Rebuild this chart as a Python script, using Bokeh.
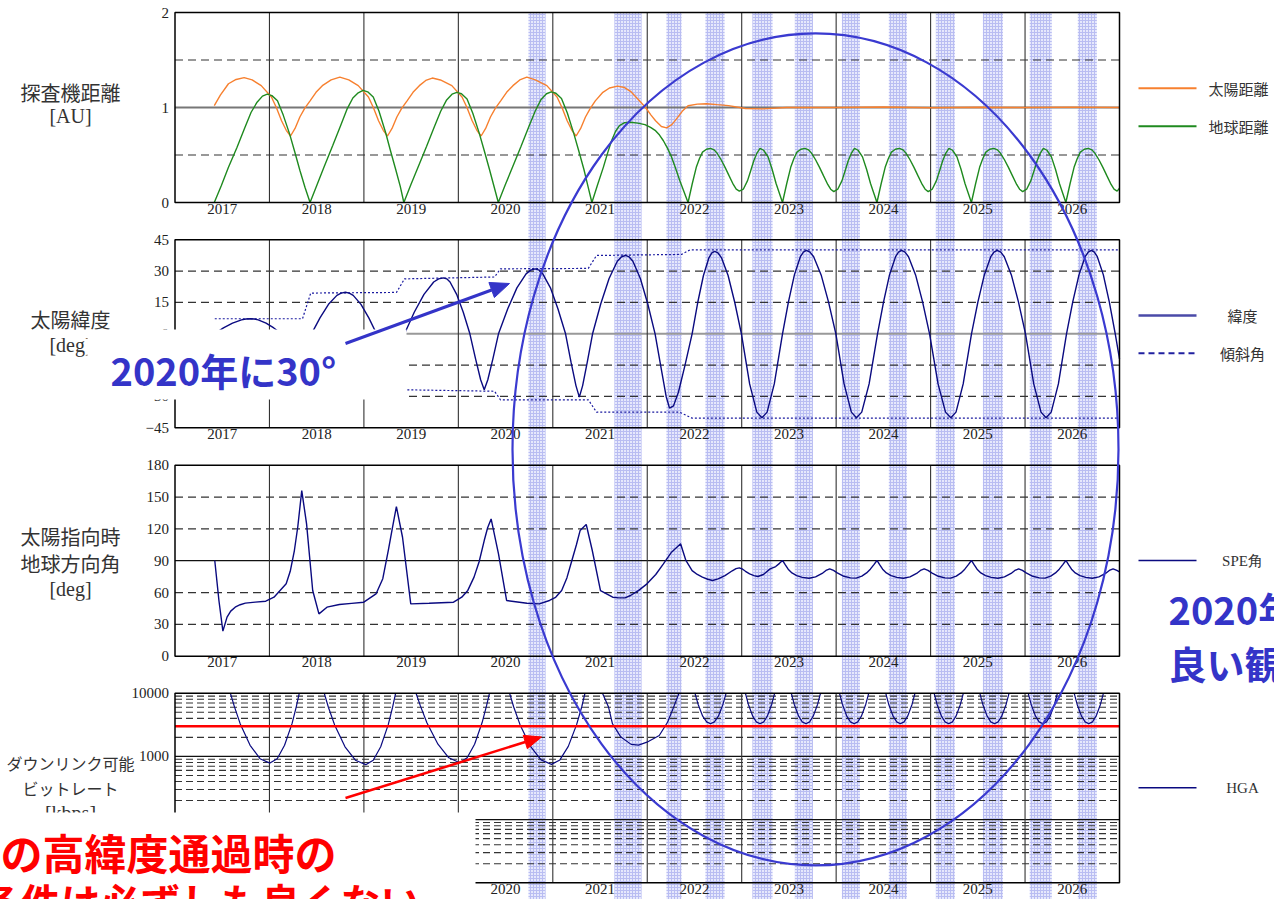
import math
from bokeh.plotting import figure
from bokeh.models import (Range1d, LinearAxis, LogAxis, LogScale, FixedTicker,
                          BasicTickFormatter, CustomJSTickFormatter)
from bokeh.core.properties import value
from bokeh.embed import file_html
from bokeh.resources import INLINE

# ---------------- data ----------------
year_labels = ["2017", "2018", "2019", "2020", "2021", "2022", "2023", "2024", "2025", "2026"]
label_pos = [2017.5, 2018.5, 2019.5, 2020.5, 2021.5, 2022.5, 2023.5, 2024.5, 2025.5, 2026.5]
year_lines = [2018, 2019, 2020, 2021, 2022, 2023, 2024, 2025, 2026]

sun_t = [2017.416, 2017.480, 2017.566, 2017.647, 2017.732, 2017.817, 2017.913, 2018.021, 2018.073, 2018.128,
         2018.178, 2018.223, 2018.271, 2018.322, 2018.373, 2018.430, 2018.493, 2018.560, 2018.653, 2018.745,
         2018.840, 2018.940, 2019.048, 2019.100, 2019.155, 2019.205, 2019.250, 2019.298, 2019.349, 2019.400,
         2019.457, 2019.520, 2019.587, 2019.655, 2019.724,
         2019.810, 2019.931, 2020.039, 2020.091, 2020.146, 2020.196, 2020.241, 2020.289, 2020.340, 2020.391,
         2020.448, 2020.511, 2020.578, 2020.650, 2020.725,
         2020.815, 2020.937, 2021.045, 2021.097, 2021.152, 2021.202, 2021.247, 2021.295, 2021.346, 2021.397,
         2021.450, 2021.530, 2021.600, 2021.685,
         2021.760, 2021.823, 2021.900, 2021.982, 2022.040, 2022.088, 2022.150, 2022.204, 2022.260, 2022.310,
         2022.370, 2022.432, 2022.530, 2022.628, 2022.740, 2022.861,
         2023.040, 2023.220, 2023.475, 2024.0, 2024.5, 2025.0, 2025.5, 2026.0, 2026.5, 2027.0]
sun_au = [1.02, 1.13, 1.25, 1.295, 1.315, 1.29, 1.23, 1.11, 1.00, 0.86,
          0.76, 0.70, 0.78, 0.90, 0.99, 1.07, 1.16, 1.23, 1.29, 1.32,
          1.29, 1.23, 1.11, 1.00, 0.86, 0.76, 0.70, 0.78, 0.90, 0.99,
          1.07, 1.16, 1.23, 1.285, 1.31,
          1.29, 1.23, 1.11, 1.00, 0.86, 0.76, 0.70, 0.78, 0.90, 0.99,
          1.07, 1.16, 1.23, 1.29, 1.32,
          1.29, 1.23, 1.11, 1.00, 0.86, 0.76, 0.70, 0.78, 0.90, 0.99,
          1.07, 1.16, 1.205, 1.225,
          1.21, 1.17, 1.09, 1.00, 0.92, 0.86, 0.80, 0.786, 0.82, 0.88,
          0.96, 1.018, 1.035, 1.04, 1.03, 1.02,
          0.99, 0.985, 1.0, 1.0, 1.005, 0.998, 1.003, 1.0, 1.004, 1.0]

earth_t = [2017.416, 2017.491, 2017.566, 2017.656, 2017.740, 2017.806, 2017.869, 2017.926, 2017.977, 2018.026,
           2018.085, 2018.146, 2018.214, 2018.266, 2018.322, 2018.376, 2018.430,
           2018.505, 2018.580, 2018.670, 2018.754, 2018.820, 2018.883, 2018.940, 2018.991, 2019.040,
           2019.099, 2019.160, 2019.229, 2019.280, 2019.336, 2019.385, 2019.423,
           2019.498, 2019.573, 2019.663, 2019.747, 2019.813, 2019.876, 2019.933, 2019.984, 2020.033,
           2020.092, 2020.153, 2020.221, 2020.273, 2020.329, 2020.380, 2020.423,
           2020.498, 2020.573, 2020.663, 2020.747, 2020.813, 2020.876, 2020.933, 2020.984, 2021.033,
           2021.092, 2021.153, 2021.221, 2021.273, 2021.329, 2021.375, 2021.414,
           2021.475, 2021.535, 2021.580, 2021.622, 2021.665, 2021.706, 2021.760, 2021.823, 2021.900, 2021.975,
           2022.035, 2022.083, 2022.130, 2022.171, 2022.215, 2022.257, 2022.300, 2022.345, 2022.390, 2022.432,
           2022.477, 2022.519, 2022.552, 2022.585, 2022.627, 2022.670, 2022.707, 2022.739, 2022.782, 2022.824,
           2022.867, 2022.911, 2022.942, 2022.975, 2023.017, 2023.062, 2023.097, 2023.128, 2023.162, 2023.194,
           2023.232, 2023.279, 2023.322, 2023.364, 2023.398, 2023.432,
           2023.477, 2023.519, 2023.552, 2023.585, 2023.627, 2023.670, 2023.707, 2023.739, 2023.782, 2023.824,
           2023.867, 2023.911, 2023.942, 2023.975, 2024.017, 2024.062, 2024.097, 2024.128, 2024.162, 2024.194,
           2024.232, 2024.279, 2024.322, 2024.364, 2024.398, 2024.432,
           2024.477, 2024.519, 2024.552, 2024.585, 2024.627, 2024.670, 2024.707, 2024.739, 2024.782, 2024.824,
           2024.867, 2024.911, 2024.942, 2024.975, 2025.017, 2025.062, 2025.097, 2025.128, 2025.162, 2025.194,
           2025.232, 2025.279, 2025.322, 2025.364, 2025.398, 2025.432,
           2025.477, 2025.519, 2025.552, 2025.585, 2025.627, 2025.670, 2025.707, 2025.739, 2025.782, 2025.824,
           2025.867, 2025.911, 2025.942, 2025.975, 2026.017, 2026.062, 2026.097, 2026.128, 2026.162, 2026.194,
           2026.232, 2026.279, 2026.322, 2026.364, 2026.398, 2026.432,
           2026.477, 2026.519, 2026.552, 2026.585, 2026.627, 2026.670, 2026.707, 2026.739, 2026.782, 2026.824,
           2026.867, 2026.911, 2026.942, 2026.975, 2027.0]
earth_au = [0.0, 0.18, 0.37, 0.58, 0.79, 0.95, 1.056, 1.12, 1.14, 1.125,
            1.07, 0.92, 0.72, 0.54, 0.34, 0.16, 0.0,
            0.19, 0.38, 0.60, 0.81, 0.98, 1.10, 1.155, 1.18, 1.165,
            1.11, 0.96, 0.74, 0.55, 0.35, 0.17, 0.0,
            0.19, 0.37, 0.59, 0.80, 0.96, 1.08, 1.14, 1.16, 1.145,
            1.09, 0.94, 0.73, 0.55, 0.35, 0.16, 0.0,
            0.19, 0.37, 0.59, 0.80, 0.96, 1.085, 1.145, 1.165, 1.15,
            1.095, 0.945, 0.73, 0.55, 0.35, 0.16, 0.0,
            0.19, 0.37, 0.52, 0.65, 0.75, 0.81, 0.84, 0.845, 0.835, 0.82,
            0.79, 0.76, 0.71, 0.65, 0.57, 0.48, 0.36, 0.23, 0.11, 0.0,
            0.20, 0.37, 0.46, 0.53, 0.56, 0.57, 0.555, 0.52, 0.45, 0.37,
            0.28, 0.19, 0.14, 0.12, 0.14, 0.23, 0.34, 0.44, 0.52, 0.57,
            0.55, 0.48, 0.35, 0.20, 0.10, 0.0,
            0.20, 0.37, 0.46, 0.53, 0.56, 0.57, 0.555, 0.52, 0.45, 0.37,
            0.28, 0.19, 0.14, 0.115, 0.14, 0.23, 0.34, 0.44, 0.52, 0.57,
            0.55, 0.48, 0.35, 0.20, 0.10, 0.0,
            0.20, 0.37, 0.46, 0.53, 0.56, 0.57, 0.555, 0.52, 0.45, 0.37,
            0.28, 0.19, 0.14, 0.115, 0.14, 0.23, 0.34, 0.44, 0.52, 0.57,
            0.55, 0.48, 0.35, 0.20, 0.10, 0.0,
            0.20, 0.37, 0.46, 0.53, 0.56, 0.57, 0.555, 0.52, 0.45, 0.37,
            0.28, 0.19, 0.14, 0.115, 0.14, 0.23, 0.34, 0.44, 0.52, 0.57,
            0.55, 0.48, 0.35, 0.20, 0.10, 0.0,
            0.20, 0.37, 0.46, 0.53, 0.56, 0.57, 0.555, 0.52, 0.45, 0.37,
            0.28, 0.19, 0.14, 0.12, 0.15]

lat_t = [2017.418, 2017.513, 2017.609, 2017.704, 2017.751, 2017.799, 2017.840, 2017.881, 2017.964, 2018.046,
         2018.128, 2018.191, 2018.247, 2018.286, 2018.326, 2018.381,
         2018.445, 2018.535, 2018.625, 2018.714, 2018.759, 2018.804, 2018.845, 2018.887, 2018.969, 2019.052,
         2019.134, 2019.193, 2019.245, 2019.282, 2019.319, 2019.371,
         2019.430, 2019.533, 2019.636, 2019.739, 2019.791, 2019.842, 2019.877, 2019.912, 2019.982, 2020.052,
         2020.122, 2020.183, 2020.236, 2020.274, 2020.312, 2020.365,
         2020.425, 2020.522, 2020.620, 2020.717, 2020.765, 2020.814, 2020.854, 2020.894, 2020.975, 2021.055,
         2021.135, 2021.193, 2021.245, 2021.281, 2021.316, 2021.365,
         2021.421, 2021.508, 2021.596, 2021.683, 2021.726, 2021.770, 2021.809, 2021.848, 2021.927, 2022.005,
         2022.083, 2022.145, 2022.200, 2022.236, 2022.278, 2022.330, 2022.400,
         2022.475, 2022.535, 2022.595, 2022.654, 2022.684, 2022.714, 2022.749, 2022.785, 2022.856, 2022.926,
         2022.997, 2023.084, 2023.160, 2023.214, 2023.269, 2023.345,
         2023.432, 2023.495, 2023.558, 2023.621, 2023.653, 2023.684, 2023.723, 2023.762, 2023.841, 2023.919,
         2023.997, 2024.084, 2024.161, 2024.215, 2024.271, 2024.349,
         2024.438, 2024.502, 2024.565, 2024.629, 2024.660, 2024.692, 2024.729, 2024.766, 2024.841, 2024.915,
         2024.989, 2025.079, 2025.158, 2025.214, 2025.269, 2025.345,
         2025.433, 2025.501, 2025.569, 2025.637, 2025.671, 2025.705, 2025.743, 2025.780, 2025.855, 2025.930,
         2026.005, 2026.092, 2026.169, 2026.223, 2026.277, 2026.353,
         2026.439, 2026.505, 2026.571, 2026.636, 2026.669, 2026.702, 2026.734, 2026.765, 2026.829, 2026.892,
         2026.955, 2027.0]
lat_deg = [0, 2.8, 5.1, 6.65, 7.06, 7.2, 7.06, 6.65, 5.1, 2.8,
           0, -3.2, -5.9, -7.2, -5.9, -3.2,
           0, 7.6, 14.1, 18.4, 19.5, 19.9, 19.5, 18.4, 14.1, 7.6,
           0, -9, -16.3, -19.9, -16.3, -9,
           0, 10.3, 18.9, 24.8, 26.3, 26.8, 26.3, 24.8, 18.9, 10.3,
           0, -12.1, -22, -26.8, -22, -12.1,
           0, 11.9, 22, 28.7, 30.5, 31.1, 30.5, 28.7, 22, 11.9,
           0, -13.6, -24.8, -30.3, -24.8, -13.6,
           0, 14.4, 26.5, 34.7, 36.8, 37.5, 36.8, 34.7, 26.5, 14.4,
           0, -16, -30, -35.6, -34.5, -28, -15,
           0, 15.1, 27.9, 36.5, 38.7, 39.5, 38.7, 36.5, 27.9, 15.1,
           0, -24, -37.5, -40.2, -37.5, -24,
           0, 15.3, 28.2, 36.9, 39.1, 39.9, 39.1, 36.9, 28.2, 15.3,
           0, -24, -37.5, -40.2, -37.5, -24,
           0, 15.3, 28.2, 36.9, 39.1, 39.9, 39.1, 36.9, 28.2, 15.3,
           0, -24, -37.5, -40.2, -37.5, -24,
           0, 15.3, 28.2, 36.9, 39.1, 39.9, 39.1, 36.9, 28.2, 15.3,
           0, -24, -37.5, -40.2, -37.5, -24,
           0, 15.3, 28.2, 36.9, 39.1, 39.9, 39.1, 36.9, 28.2, 15.3,
           0, -12]

incl_up_t = [2017.421, 2018.350, 2018.437, 2019.345, 2019.430, 2020.383, 2020.446, 2021.376, 2021.463, 2022.363, 2022.453, 2027.0]
incl_up = [7.2, 7.2, 19.5, 19.8, 26.3, 27.2, 31.1, 31.3, 37.5, 38.0, 40.2, 40.2]
incl_lo_t = [2017.421, 2018.350, 2018.437, 2019.345, 2019.430, 2020.383, 2020.446, 2021.376, 2021.463, 2022.342, 2022.475, 2027.0]
incl_lo = [-7.2, -7.2, -19.5, -19.8, -26.8, -27.5, -31.6, -31.6, -37.5, -37.5, -40.4, -40.4]

spe_t = [2017.421, 2017.465, 2017.507, 2017.551, 2017.590, 2017.637, 2017.690, 2017.745, 2017.850, 2017.961,
         2018.048, 2018.177, 2018.220, 2018.264, 2018.300, 2018.342, 2018.393, 2018.458, 2018.524, 2018.609,
         2018.740, 2018.870, 2018.999, 2019.128, 2019.200, 2019.258, 2019.300, 2019.344, 2019.409, 2019.496,
         2019.690, 2019.949, 2020.036, 2020.100, 2020.166, 2020.220, 2020.274, 2020.310, 2020.347, 2020.425,
         2020.511, 2020.727, 2020.857, 2020.965, 2021.030, 2021.094, 2021.150, 2021.202, 2021.250, 2021.289,
         2021.354, 2021.418, 2021.505, 2021.634, 2021.700, 2021.765, 2021.823, 2021.910, 2021.997, 2022.090,
         2022.171, 2022.257, 2022.353, 2022.409, 2022.475, 2022.530, 2022.584, 2022.640, 2022.692, 2022.750,
         2022.823, 2022.900, 2022.940, 2022.975, 2023.010, 2023.040, 2023.084, 2023.130, 2023.171, 2023.230,
         2023.301, 2023.360, 2023.400, 2023.432,
         2023.462, 2023.492, 2023.532, 2023.582, 2023.642, 2023.712, 2023.782, 2023.852, 2023.892, 2023.932,
         2023.972, 2024.012, 2024.082, 2024.152, 2024.212, 2024.272, 2024.322, 2024.362, 2024.402, 2024.432,
         2024.462, 2024.492, 2024.532, 2024.582, 2024.642, 2024.712, 2024.782, 2024.852, 2024.892, 2024.932,
         2024.972, 2025.012, 2025.082, 2025.152, 2025.212, 2025.272, 2025.322, 2025.362, 2025.402, 2025.432,
         2025.462, 2025.492, 2025.532, 2025.582, 2025.642, 2025.712, 2025.782, 2025.852, 2025.892, 2025.932,
         2025.972, 2026.012, 2026.082, 2026.152, 2026.212, 2026.272, 2026.322, 2026.362, 2026.402, 2026.432,
         2026.462, 2026.492, 2026.532, 2026.582, 2026.642, 2026.712, 2026.782, 2026.852, 2026.892, 2026.932,
         2026.972, 2027.0]
spe_deg = [90.2, 52.5, 23.6, 36.8, 42.5, 46.2, 48.5, 50, 51, 51.8,
           55.6, 68.2, 80, 99.6, 122, 156.1, 124.7, 61.9, 39.9, 46.2,
           48.7, 49.8, 50.9, 58.7, 73, 99.6, 120, 141, 112.1, 49.3,
           49.9, 50.9, 55.6, 62, 74.5, 89, 109, 121, 129.4, 96.4,
           52.5, 49.9, 49.3, 52.5, 55.5, 61.9, 74, 90.2, 105, 118.4,
           124.1, 99.6, 61.9, 55.6, 55, 55, 57.2, 62, 68.2, 77,
           87, 98, 105.9, 90.2, 80.7, 77, 74.5, 72.5, 71.3, 72.8,
           76, 80.5, 82.5, 83.2, 82, 80, 77.6, 76, 75.1, 77,
           82.3, 84.5, 87.5, 90.2,
           86.0, 82.0, 78.5, 76.0, 74.3, 73.5, 74.8, 78.0, 80.8, 82.3,
           80.8, 78.5, 75.3, 73.8, 73.6, 75.5, 78.5, 82.0, 86.5, 90.2,
           86.0, 82.0, 78.5, 76.0, 74.3, 73.5, 74.8, 78.0, 80.8, 82.3,
           80.8, 78.5, 75.3, 73.8, 73.6, 75.5, 78.5, 82.0, 86.5, 90.2,
           86.0, 82.0, 78.5, 76.0, 74.3, 73.5, 74.8, 78.0, 80.8, 82.3,
           80.8, 78.5, 75.3, 73.8, 73.6, 75.5, 78.5, 82.0, 86.5, 90.2,
           86.0, 82.0, 78.5, 76.0, 74.3, 73.5, 74.8, 78.0, 80.8, 82.3,
           80.8, 79.5]

hga_t = [
    [2017.586, 2017.628, 2017.690, 2017.795, 2017.900, 2018.005, 2018.082, 2018.160, 2018.239, 2018.285, 2018.316],
    [2018.580, 2018.624, 2018.690, 2018.800, 2018.910, 2019.020, 2019.099, 2019.178, 2019.257, 2019.304, 2019.336],
    [2019.552, 2019.598, 2019.667, 2019.784, 2019.899, 2020.014, 2020.093, 2020.172, 2020.251, 2020.298, 2020.330],
    [2020.542, 2020.586, 2020.653, 2020.764, 2020.875, 2020.986, 2021.075, 2021.164, 2021.252, 2021.306, 2021.341],
    [2021.526, 2021.590, 2021.632, 2021.721, 2021.829, 2021.908, 2021.997, 2022.127, 2022.215, 2022.278, 2022.336],
    [2022.505, 2022.538, 2022.587, 2022.629, 2022.670, 2022.711, 2022.753, 2022.802, 2022.835],
    [2023.039, 2023.070, 2023.117, 2023.155, 2023.194, 2023.233, 2023.271, 2023.318, 2023.349],
    [2023.525, 2023.556, 2023.603, 2023.641, 2023.680, 2023.719, 2023.757, 2023.804, 2023.835],
    [2024.035, 2024.066, 2024.113, 2024.151, 2024.190, 2024.229, 2024.267, 2024.314, 2024.345],
    [2024.525, 2024.556, 2024.603, 2024.641, 2024.680, 2024.719, 2024.757, 2024.804, 2024.835],
    [2025.037, 2025.068, 2025.115, 2025.153, 2025.192, 2025.231, 2025.269, 2025.316, 2025.347],
    [2025.521, 2025.552, 2025.599, 2025.637, 2025.676, 2025.715, 2025.753, 2025.800, 2025.831],
    [2026.033, 2026.064, 2026.111, 2026.149, 2026.188, 2026.227, 2026.265, 2026.312, 2026.343],
    [2026.520, 2026.551, 2026.598, 2026.636, 2026.675, 2026.714, 2026.752, 2026.799, 2026.830],
]
hga_kbps = [
    [10000, 6200, 3300, 1500, 920, 784, 920, 1500, 3300, 6200, 10000],
    [10000, 6000, 3150, 1420, 870, 740, 870, 1420, 3150, 6000, 10000],
    [10000, 6300, 3400, 1560, 950, 795, 950, 1560, 3400, 6300, 10000],
    [10000, 6050, 3180, 1440, 880, 748, 880, 1440, 3180, 6050, 10000],
    [10000, 6030, 3280, 2020, 1550, 1510, 1680, 2140, 3470, 5960, 10000],
    [10000, 6700, 4330, 3520, 3280, 3520, 4330, 6700, 10000],
    [10000, 6700, 4330, 3520, 3280, 3520, 4330, 6700, 10000],
    [10000, 6700, 4330, 3520, 3280, 3520, 4330, 6700, 10000],
    [10000, 6700, 4330, 3520, 3280, 3520, 4330, 6700, 10000],
    [10000, 6700, 4330, 3520, 3280, 3520, 4330, 6700, 10000],
    [10000, 6700, 4330, 3520, 3280, 3520, 4330, 6700, 10000],
    [10000, 6700, 4330, 3520, 3280, 3520, 4330, 6700, 10000],
    [10000, 6700, 4330, 3520, 3280, 3520, 4330, 6700, 10000],
    [10000, 6700, 4330, 3520, 3280, 3520, 4330, 6700, 10000],
]
hga_required = 3000

band_start = [2020.743, 2021.653, 2022.204, 2022.617, 2023.114, 2023.563, 2024.061, 2024.558, 2025.056, 2025.554, 2026.050, 2026.559]
band_end = [2020.923, 2021.939, 2022.363, 2022.818, 2023.326, 2023.754, 2024.252, 2024.749, 2025.257, 2025.766, 2026.283, 2026.760]

# ---------------- layout (reference pixel boxes) ----------------
W, H = 1274, 899
OX, OY = 0, 0
X0_PX, X1_PX = 174.5, 1119.0
T0, T1 = 2017.0, 2027.0
PANELS = {
    "p1": dict(top=12.0, bot=202.0, lo=0.0, hi=2.0, log=False),
    "p2": dict(top=239.3, bot=427.3, lo=-45.0, hi=45.0, log=False),
    "p3": dict(top=464.7, bot=655.7, lo=0.0, hi=180.0, log=False),
    "p4": dict(top=692.7, bot=882.3, lo=10.0, hi=10000.0, log=True),
}
y_ticks = {"p1": [0, 1, 2], "p2": [-45, -30, 0, 15, 30, 45],
           "p3": [0, 30, 60, 90, 120, 150, 180], "p4": [1000, 10000]}
x_ticks = {"p1": label_pos, "p2": label_pos, "p3": label_pos, "p4": label_pos[3:]}

SERIF = "Liberation Serif"
JP = "Noto Sans CJK JP"
ORANGE = "#f7802f"
GREEN = "#1f8a1f"
NAVY = "#0a0a80"
BLUE = "#3434c8"

yr_per_px = (T1 - T0) / (X1_PX - X0_PX)
x_start = T0 + (OX - X0_PX) * yr_per_px
x_end = T0 + (OX + W - X0_PX) * yr_per_px


def panel_range(top, bot, lo, hi, log):
    if log:
        lo, hi = math.log10(lo), math.log10(hi)
    per = (hi - lo) / (bot - top)
    start = lo - (OY + H - bot) * per
    end = hi + (top - OY) * per
    if log:
        return Range1d(start=10 ** start, end=10 ** end)
    return Range1d(start=start, end=end)


p = figure(width=W, height=H, x_range=Range1d(x_start, x_end), y_range=Range1d(OY + H, OY),
           x_axis_type=None, y_axis_type=None, toolbar_location=None,
           output_backend="svg", min_border=0, outline_line_color=None,
           background_fill_color="white", border_fill_color="white")
p.extra_x_ranges = {"px": Range1d(OX, OX + W)}
p.extra_y_ranges = {k: panel_range(**v) for k, v in PANELS.items()}
p.extra_y_scales = {"p4": LogScale()}

# bands (high-latitude windows), spanning all panels
p.quad(left=band_start, right=band_end, top=PANELS["p1"]["top"], bottom=OY + H,
       fill_color="#e6e8fc", line_color=None, hatch_pattern="+", hatch_color="#b9bdf2",
       hatch_scale=3, hatch_weight=1)


def hlines(name, vals, color, dash, width):
    p.segment(x0=[T0] * len(vals), x1=[T1] * len(vals), y0=vals, y1=vals, y_range_name=name,
              line_color=color, line_dash=dash, line_width=width)


hlines("p1", [0.5, 1.5], "#333333", "8 5", 1.2)
hlines("p1", [1.0], "#777777", "solid", 2)
hlines("p2", [-30, -15, 15, 30], "#333333", "8 5", 1.2)
hlines("p2", [0.0], "#999999", "solid", 2)
hlines("p3", [30, 60, 120, 150], "#333333", "8 5", 1.2)
hlines("p3", [90.0], "#111111", "solid", 1.2)
minor = [m * d for d in (10, 100, 1000) for m in range(2, 10)]
hlines("p4", minor, "#333333", "7 4", 1.1)
hlines("p4", [100, 1000], "#111111", "solid", 1.2)

for name, pn in PANELS.items():
    n = len(year_lines)
    p.segment(x0=year_lines, x1=year_lines, y0=[pn["lo"]] * n, y1=[pn["hi"]] * n,
              y_range_name=name, line_color="#333333", line_width=1.1)

# curves
p.line(sun_t, sun_au, y_range_name="p1", line_color=ORANGE, line_width=1.4)
p.line(earth_t, earth_au, y_range_name="p1", line_color=GREEN, line_width=1.4)
p.line(incl_up_t, incl_up, y_range_name="p2", line_color="#1a1aa0", line_dash="2 2", line_width=1.2)
p.line(incl_lo_t, incl_lo, y_range_name="p2", line_color="#1a1aa0", line_dash="2 2", line_width=1.2)
p.line(lat_t, lat_deg, y_range_name="p2", line_color=NAVY, line_width=1.4)
p.line(spe_t, spe_deg, y_range_name="p3", line_color=NAVY, line_width=1.4)
p.multi_line(hga_t, hga_kbps, y_range_name="p4", line_color=NAVY, line_width=1.2)
p.segment(x0=[T0], x1=[T1], y0=[hga_required], y1=[hga_required], y_range_name="p4",
          line_color="#ff0000", line_width=2.5)

# panel frames
for name, pn in PANELS.items():
    p.quad(left=[T0], right=[T1], bottom=[pn["lo"]], top=[pn["hi"]], y_range_name=name,
           fill_color=None, line_color="black", line_width=1.5)


def style(ax, standoff):
    ax.axis_line_color = None
    ax.major_tick_line_color = None
    ax.minor_tick_line_color = None
    ax.major_tick_in = 0
    ax.major_tick_out = 0
    ax.minor_tick_in = 0
    ax.minor_tick_out = 0
    ax.major_label_text_font = SERIF
    ax.major_label_text_font_size = "15px"
    ax.major_label_text_color = "#222222"
    ax.major_label_standoff = standoff


for name, pn in PANELS.items():
    if pn["log"]:
        ya = LogAxis(y_range_name=name, ticker=FixedTicker(ticks=y_ticks[name]),
                     formatter=BasicTickFormatter(use_scientific=False), fixed_location=T0)
    else:
        ya = LinearAxis(y_range_name=name, ticker=FixedTicker(ticks=y_ticks[name]), fixed_location=T0)
    style(ya, 6)
    p.add_layout(ya, "left")
    xa = LinearAxis(ticker=FixedTicker(ticks=x_ticks[name]), fixed_location=pn["bot"],
                    formatter=CustomJSTickFormatter(args=dict(pos=label_pos, labels=year_labels),
                                                    code="const i = pos.indexOf(tick); return i >= 0 ? labels[i] : '';"))
    style(xa, 1)
    p.add_layout(xa, "below")


def txt(xs, ys, texts, font, size, color="#333333", align="center", baseline="middle", bold=False, level="glyph"):
    p.text(x=xs, y=ys, text=texts, x_range_name="px", text_font=value(font), text_font_size=size,
           text_color=color, text_align=align, text_baseline=baseline,
           text_font_style="bold" if bold else "normal", level=level)


# axis titles (left)
txt([70, 70, 70, 70], [92, 318.5, 535.5, 562.5], ["探査機距離", "太陽緯度", "太陽指向時", "地球方向角"], JP, "20px")
txt([70, 70, 70, 70], [115, 344, 588.5, 812], ["[AU]", "[deg]", "[deg]", "[kbps]"], SERIF, "20px")
txt([70, 70], [762.5, 787.5], ["ダウンリンク可能", "ビットレート"], JP, "16px")

# legends
leg_y = [87.7, 125.7, 315, 352.7, 560, 787.3]
leg_col = [ORANGE, GREEN, "#4a4aa8", "#2020a0", NAVY, NAVY]
leg_dash = ["solid", "solid", "solid", "6 4", "solid", "solid"]
leg_w = [2, 2, 2.5, 2, 1.6, 1.6]
for yy, cc, dd, ww in zip(leg_y, leg_col, leg_dash, leg_w):
    p.line([1138, 1196], [yy, yy], x_range_name="px", line_color=cc, line_dash=dd, line_width=ww)
txt([1238, 1238, 1242, 1242], leg_y[:4], ["太陽距離", "地球距離", "緯度", "傾斜角"], JP, "15px")
txt([1242, 1242], leg_y[4:], ["SPE角", "HGA"], SERIF, "15px")

# ---------------- overlay annotations ----------------
p.quad(left=[87, 0], right=[406, 475], top=[329, 812], bottom=[399, OY + H], x_range_name="px",
       fill_color="white", line_color=None, level="overlay")

txt([110], [369], ["2020年に30°"], JP, "38px", color=BLUE, align="left", bold=True, level="overlay")
txt([1168, 1168], [608, 662], ["2020年", "良い観"], JP, "38px", color=BLUE, align="left", bold=True, level="overlay")
txt([0], [851], ["の高緯度通過時の"], JP, "42px", color="#ff0000", align="left", bold=True, level="overlay")
txt([420], [871], ["条件は必ずしも良くない"], JP, "40px", color="#ff0000", align="right",
    baseline="top", bold=True, level="overlay")


def arrow(x0, y0, x1, y1, color, width, head_len, head_w):
    dx, dy = x1 - x0, y1 - y0
    L = math.hypot(dx, dy)
    ux, uy = dx / L, dy / L
    bx, by = x1 - ux * head_len, y1 - uy * head_len
    nx, ny = -uy, ux
    p.line([x0, bx], [y0, by], x_range_name="px", line_color=color, line_width=width, level="overlay")
    p.patch([x1, bx + nx * head_w, bx - nx * head_w], [y1, by + ny * head_w, by - ny * head_w],
            x_range_name="px", fill_color=color, line_color=color, level="overlay")


arrow(345, 343, 509, 283, BLUE, 3, 19, 8)
arrow(345, 797.5, 541, 736.5, "#ff0000", 2.5, 17, 7)

p.ellipse(x=[815], y=[448.9], width=[606], height=[832], x_range_name="px",
          fill_color=None, line_color="#3a3ad0", line_width=2.2, level="overlay")

open("out.html", "w").write(file_html(p, INLINE))
